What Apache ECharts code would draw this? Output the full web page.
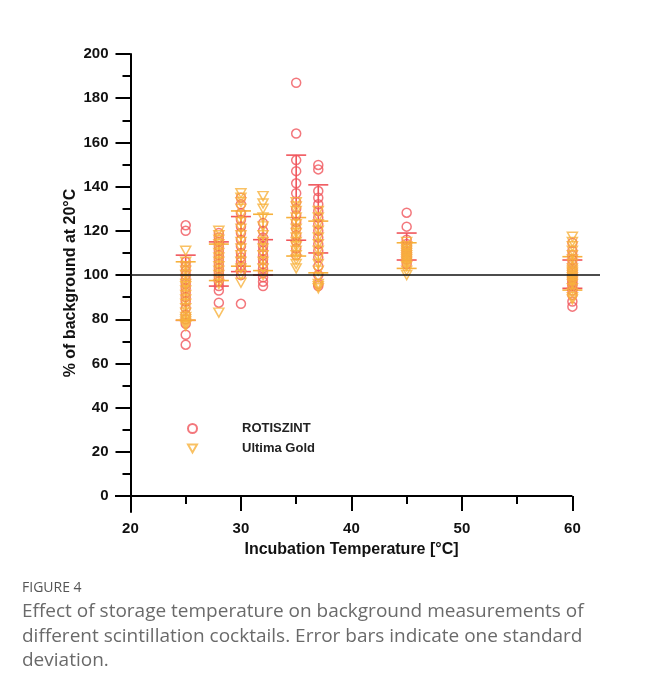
<!DOCTYPE html>
<html>
<head>
<meta charset="utf-8">
<script src="https://cdn.jsdelivr.net/npm/echarts@6/dist/echarts.min.js"></script>
<style>
  body { margin: 0; background: #fff; width: 646px; height: 690px; overflow: hidden; position: relative; }
  #chart { position: absolute; left: 0; top: 0; width: 646px; height: 690px; }
  .fig { position: absolute; left: 22px; top: 579px; font: 400 14px "Open Sans", sans-serif; color: #555; line-height: 16px; }
  .cap { position: absolute; left: 22px; top: 598px; white-space: nowrap; font: 400 19px "Open Sans", sans-serif; color: #6a6a6a; line-height: 24.5px; }
</style>
</head>
<body>
<div id="chart"></div>
<div class="fig">FIGURE 4</div>
<div class="cap">Effect of storage temperature on background measurements of<br>different scintillation cocktails. Error bars indicate one standard<br>deviation.</div>
<script>
// incubation temperatures (°C)
var temps = [25, 28, 30, 32, 35, 37, 45, 60];

// individual measurements, % of background at 20°C
var rotiszint = [
  [122.5, 120, 106, 104, 102, 100, 98, 96, 94, 92, 90, 88, 85, 82, 80, 78, 73, 68.5],
  [119, 117, 115, 113, 111, 109, 107, 105, 103, 101, 99, 97, 95, 93, 87.5],
  [135, 132, 128, 125, 122, 119, 116, 113, 110, 108, 106, 104, 102, 100, 87],
  [123.5, 120, 117, 115, 113, 111, 109, 107, 105, 103, 101, 99, 97, 95],
  [187, 164, 152, 147, 141.5, 137, 133, 130, 127, 124, 121, 118, 115, 112, 109],
  [149.8, 147.8, 138, 135, 132, 129, 126, 123, 120, 117, 114, 111, 108, 104, 100, 96, 95],
  [128.2, 121.9, 116, 114, 113, 112, 111, 110, 109, 108, 107, 105],
  [114.6, 111, 109, 107, 105, 103, 102, 101, 100, 99, 98, 97, 96, 95, 93, 91, 88, 85.7]
];
var ultimaGold = [
  [111, 106, 104, 102, 100, 98, 96, 95, 93, 91, 89, 87, 85, 83, 81, 80, 79, 78, 77],
  [120, 118, 116, 114, 112, 110, 108, 106, 104, 102, 100, 98, 96, 83],
  [137, 135, 133, 130, 127, 124, 121, 118, 115, 112, 109, 106, 103, 100, 96.5],
  [135.7, 132.4, 130, 126, 122, 118, 115, 112, 109, 106, 103, 100],
  [133, 131, 129, 126, 123, 121, 119, 117, 115, 113, 111, 109, 107, 105, 103],
  [129, 126, 123, 120, 117, 114, 111, 108, 105, 102, 99, 96, 95, 94],
  [115, 113, 112, 111, 110, 109, 108, 107, 106, 105, 104, 102, 100],
  [117.3, 115, 113, 111, 109, 107, 105, 103, 102, 101, 100, 99, 98, 97, 96, 94, 92, 90, 89]
];

// mean and one standard deviation per temperature
var rotiMean = [94.25, 105, 114, 108, 135, 125.4, 112.9, 100.4];
var rotiSD = [14.75, 10, 12.45, 8, 19.25, 15.4, 6.1, 6.4];
var ultimaMean = [92.8, 105.75, 116.5, 114.75, 117.3, 112.7, 108.8, 100.75];
var ultimaSD = [13.2, 8.25, 12.5, 12.75, 8.7, 11.7, 5.8, 7.55];

var yMajor = [0, 20, 40, 60, 80, 100, 120, 140, 160, 180, 200];
var yMinor = [10, 30, 50, 70, 90, 110, 130, 150, 170, 190];
var xMajor = [20, 30, 40, 50, 60];
var xMinor = [25, 35, 45, 55];

var RED = '#f0555b';
var ORANGE = '#f7b13c';
var FONT = '"Liberation Sans", Arial, sans-serif';

function points(groups) {
  var out = [];
  groups.forEach(function (g, i) {
    g.forEach(function (v) { out.push([temps[i], v]); });
  });
  return out;
}
function errors(mean, sd) {
  return temps.map(function (t, i) { return [t, mean[i] - sd[i], mean[i] + sd[i]]; });
}
function errorBar(color) {
  return function (params, api) {
    var x = api.value(0);
    var lo = api.coord([x, api.value(1)]);
    var hi = api.coord([x, api.value(2)]);
    var w = 10;
    var st = { stroke: color, lineWidth: 1.6, fill: null };
    return {
      type: 'group',
      children: [
        { type: 'line', shape: { x1: hi[0], y1: hi[1], x2: lo[0], y2: lo[1] }, style: st },
        { type: 'line', shape: { x1: hi[0] - w, y1: hi[1], x2: hi[0] + w, y2: hi[1] }, style: st },
        { type: 'line', shape: { x1: lo[0] - w, y1: lo[1], x2: lo[0] + w, y2: lo[1] }, style: st }
      ]
    };
  };
}

var tickStyle = { color: '#000', width: 2 };
var hiddenLine = { show: true, onZero: true, onZeroAxisIndex: 0, lineStyle: { color: '#000', opacity: 0 } };
var labelStyle = { fontFamily: FONT, fontWeight: 'bold', fontSize: 15, color: '#111' };

var chart = echarts.init(document.getElementById('chart'));
chart.setOption({
  animation: false,
  backgroundColor: '#fff',
  grid: { left: 115, right: 46, top: 54, bottom: 178 },
  legend: {
    orient: 'vertical', left: 182, top: 417,
    itemWidth: 9, itemHeight: 9, itemGap: 7,
    data: [
      { name: 'ROTISZINT' },
      { name: 'Ultima Gold', icon: 'path://M0,0 L10,0 L5,9 Z' }
    ],
    textStyle: { fontFamily: FONT, fontWeight: 'bold', fontSize: 13, color: '#222', padding: [0, 0, 0, 40] }
  },
  xAxis: [{
    type: 'value', min: 18.6, max: 62.5, position: 'bottom',
    axisLine: hiddenLine,
    axisTick: { show: true, length: 15, lineStyle: tickStyle, customValues: xMajor },
    axisLabel: Object.assign({ customValues: xMajor, margin: 9 }, labelStyle),
    splitLine: { show: false },
    name: 'Incubation Temperature [°C]', nameLocation: 'middle', nameGap: 30,
    nameTextStyle: { fontFamily: FONT, fontWeight: 'bold', fontSize: 16, color: '#111', padding: [0, 12, 0, 0] }
  }, {
    type: 'value', min: 18.6, max: 62.5, position: 'bottom',
    axisLine: hiddenLine,
    axisTick: { show: true, length: 8, lineStyle: tickStyle, customValues: xMinor },
    axisLabel: { show: false },
    splitLine: { show: false }
  }],
  yAxis: [{
    type: 'value', min: -7.2, max: 200, position: 'left', offset: -15.5,
    axisLine: { show: true, onZero: false, lineStyle: tickStyle },
    axisTick: { show: true, length: 15, lineStyle: tickStyle, customValues: yMajor },
    axisLabel: Object.assign({ customValues: yMajor, margin: 22 }, labelStyle),
    splitLine: { show: false },
    name: '% of background at 20°C', nameLocation: 'middle', nameGap: 52, nameMoveOverlap: false,
    nameTextStyle: { fontFamily: FONT, fontWeight: 'bold', fontSize: 16, color: '#111' }
  }, {
    type: 'value', min: -7.2, max: 200, position: 'left', offset: -15.5,
    axisLine: { show: false, onZero: false },
    axisTick: { show: true, length: 8, lineStyle: tickStyle, customValues: yMinor },
    axisLabel: { show: false },
    splitLine: { show: false }
  }],
  series: [{
    name: 'ROTISZINT', type: 'scatter', symbol: 'circle', symbolSize: 9,
    itemStyle: { color: 'rgba(255,255,255,0)', borderColor: RED, borderWidth: 1.5 },
    data: points(rotiszint),
    markLine: {
      silent: true, symbol: 'none', z: 10,
      label: { show: false },
      data: [
        [{ coord: [20, 100], lineStyle: { color: '#111', width: 1.5, type: 'solid' } }, { coord: [62.5, 100] }],
        [{ coord: [18.6, 0], lineStyle: { color: '#000', width: 2, type: 'solid' } }, { coord: [60, 0] }]
      ]
    }
  }, {
    name: 'ROTISZINT', type: 'custom', renderItem: errorBar(RED),
    encode: { x: 0, y: [1, 2] }, data: errors(rotiMean, rotiSD), silent: true
  }, {
    name: 'Ultima Gold', type: 'scatter', symbol: 'triangle', symbolRotate: 180, symbolSize: [10, 9],
    itemStyle: { color: 'rgba(255,255,255,0)', borderColor: ORANGE, borderWidth: 1.5 },
    data: points(ultimaGold)
  }, {
    name: 'Ultima Gold', type: 'custom', renderItem: errorBar(ORANGE),
    encode: { x: 0, y: [1, 2] }, data: errors(ultimaMean, ultimaSD), silent: true
  }]
});
</script>
</body>
</html>
